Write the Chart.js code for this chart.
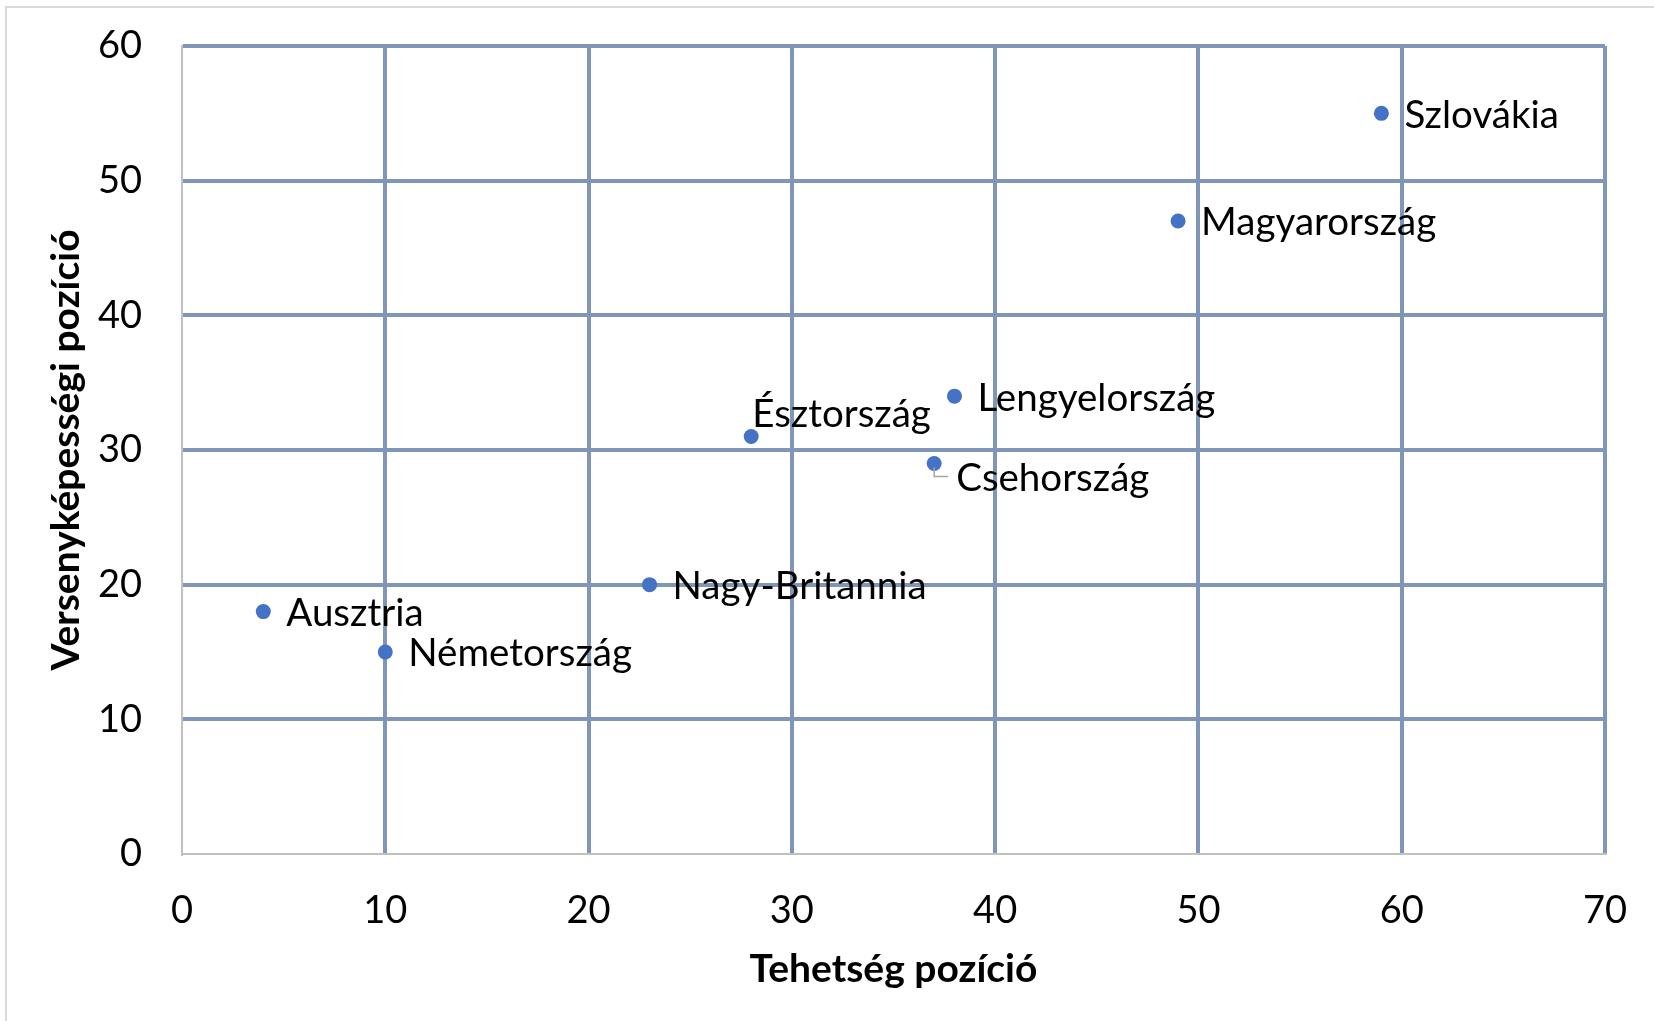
<!DOCTYPE html>
<html>
<head>
<meta charset="utf-8">
<script src="https://cdn.jsdelivr.net/npm/chart.js@4/dist/chart.umd.min.js"></script>
<style>
  body { margin: 0; background: #fff; }
  canvas { display: block; }
</style>
</head>
<body>
<canvas id="scatterChart" width="1654" height="1021"></canvas>
<script>
"use strict";

const countries = ["Szlovákia", "Magyarország", "Lengyelország", "Észtország", "Csehország", "Nagy-Britannia", "Ausztria", "Németország"];
const talentPosition = [59, 49, 38, 28, 37, 23, 4, 10];
const competitivenessPosition = [55, 47, 34, 31, 29, 20, 18, 15];
const xTicks = [0, 10, 20, 30, 40, 50, 60, 70];
const yTicks = [0, 10, 20, 30, 40, 50, 60];

const FONT = "Lato, 'Open Sans', sans-serif";
const GRID_COLOR = "#7f96b8";
const AXIS_COLOR = "#c0c0c0";

// where each label sits relative to its point
const labelPlacement = {
  "Észtország": { dx: 1, dy: -22, leader: false },
  "Csehország": { dx: 22, dy: 15, leader: true }
};

const frame = {
  id: "frame",
  beforeDraw(chart) {
    const ctx = chart.ctx;
    ctx.save();
    ctx.fillStyle = "#fff";
    ctx.fillRect(0, 0, chart.width, chart.height);
    ctx.strokeStyle = "#d9d9d9";
    ctx.lineWidth = 2;
    ctx.beginPath();
    ctx.moveTo(6, chart.height);
    ctx.lineTo(6, 7);
    ctx.lineTo(chart.width, 7);
    ctx.stroke();
    ctx.restore();
  }
};

const pointLabels = {
  id: "pointLabels",
  afterDatasetsDraw(chart) {
    const ctx = chart.ctx;
    const meta = chart.getDatasetMeta(0);
    ctx.save();
    ctx.font = "38.5px " + FONT;
    ctx.fillStyle = "#000";
    ctx.textAlign = "left";
    ctx.textBaseline = "middle";
    meta.data.forEach(function (pt, i) {
      const name = countries[i];
      const place = labelPlacement[name] || { dx: 23, dy: 2, leader: false };
      if (place.leader) {
        ctx.strokeStyle = "#a6a6a6";
        ctx.lineWidth = 1.5;
        ctx.beginPath();
        ctx.moveTo(pt.x, pt.y + 4);
        ctx.lineTo(pt.x, pt.y + 13);
        ctx.lineTo(pt.x + 14, pt.y + 13);
        ctx.stroke();
      }
      ctx.fillText(name, pt.x + place.dx, pt.y + place.dy);
    });
    ctx.restore();
  }
};

const gridColor = function (c) {
  return c.tick && c.tick.value === 0 ? "rgba(0,0,0,0)" : GRID_COLOR;
};

const ctx = document.getElementById("scatterChart").getContext("2d");

const chart = new Chart(ctx, {
  type: "scatter",
  data: {
    labels: countries,
    datasets: [
      {
        label: "Országok",
        data: talentPosition.map(function (x, i) {
          return { x: x, y: competitivenessPosition[i] };
        }),
        backgroundColor: "#4472c4",
        borderColor: "#4472c4",
        borderWidth: 0,
        pointRadius: 7.5,
      },
    ],
  },
  options: {
    responsive: false,
    animation: false,
    devicePixelRatio: 1,
    layout: {
      padding: { left: 0, top: 46, right: 49, bottom: 0 },
    },
    plugins: {
      legend: { display: false },
      tooltip: { enabled: false },
    },
    scales: {
      x: {
        type: "linear",
        min: 0,
        max: 70,
        afterBuildTicks: function (scale) {
          scale.ticks = xTicks.map(function (v) { return { value: v }; });
        },
        afterFit: function (scale) {
          scale.height = 167;
          scale.paddingLeft = 0;
          scale.paddingRight = 0;
        },
        grid: { color: gridColor, lineWidth: 4, drawTicks: false },
        border: { color: AXIS_COLOR, width: 2 },
        ticks: {
          padding: 34,
          color: "#000",
          font: { family: FONT, size: 38 },
          maxRotation: 0,
        },
        title: {
          display: true,
          text: "Tehetség pozíció",
          color: "#000",
          font: { family: FONT, size: 39, weight: "bold" },
          padding: { top: 0, bottom: 28 },
        },
      },
      y: {
        type: "linear",
        min: 0,
        max: 60,
        afterBuildTicks: function (scale) {
          scale.ticks = yTicks.map(function (v) { return { value: v }; });
        },
        afterFit: function (scale) {
          scale.width = 182;
          scale.paddingTop = 0;
          scale.paddingBottom = 0;
        },
        grid: { color: gridColor, lineWidth: 4, drawTicks: false },
        border: { color: AXIS_COLOR, width: 2 },
        ticks: {
          padding: 40,
          color: "#000",
          font: { family: FONT, size: 38 },
        },
        title: {
          display: true,
          text: "Versenyképességi pozíció",
          color: "#000",
          font: { family: FONT, size: 39, weight: "bold" },
          padding: { top: 43, bottom: 0 },
        },
      },
    },
  },
  plugins: [frame, pointLabels],
});
</script>
</body>
</html>
